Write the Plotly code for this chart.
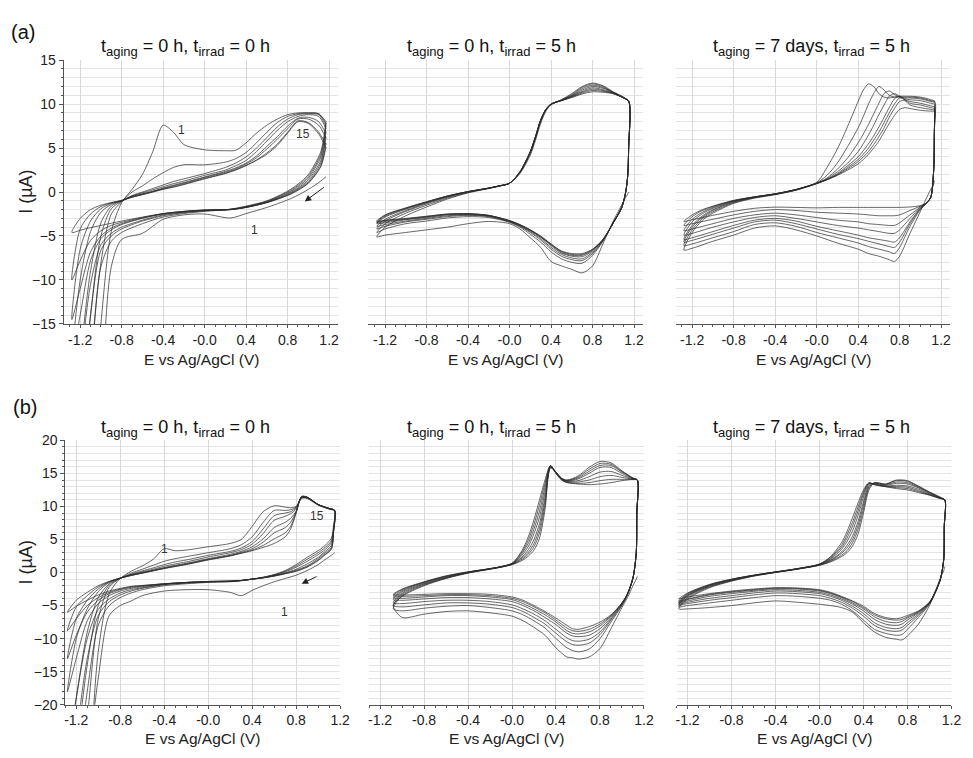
import plotly.graph_objects as go

# Cyclic voltammograms: repeated scans, each scan = cathodic sweep (from the
# positive vertex down) followed by the anodic sweep back up.
CYCLES = [1, 2, 3, 4, 6, 8, 11, 15]

# ---------------- (a) t_aging = 0 h, t_irrad = 0 h ----------------
A1_CATH_E = [1.17, 1.12, 1.0, 0.9, 0.8, 0.6, 0.4, 0.25, 0.0, -0.2, -0.4, -0.6, -0.8, -0.9, -1.0, -1.1, -1.2, -1.28]
A1_CATH_I = [
    [1.75, 1.25, 0.3, -0.35, -0.9, -1.75, -2.45, -2.95, -2.5, -2.6, -3.1, -4.7, -5.4, -8.5, -24, -38, -45, -50],
    [8.0, 4.6, 2.0, 0.9, 0.1, -1.0, -1.6, -1.95, -2.2, -2.45, -2.85, -3.6, -4.6, -5.6, -8.5, -20, -32, -40],
    [7.8, 4.3, 1.8, 0.75, 0.0, -1.05, -1.65, -1.95, -2.15, -2.35, -2.7, -3.3, -4.2, -5.0, -6.6, -14, -26, -34],
    [7.5, 4.0, 1.6, 0.6, -0.1, -1.1, -1.7, -1.97, -2.1, -2.3, -2.6, -3.2, -4.0, -4.7, -6.0, -10.5, -20, -28],
    [6.9, 3.6, 1.4, 0.45, -0.2, -1.15, -1.72, -1.98, -2.08, -2.25, -2.5, -3.0, -3.7, -4.3, -5.3, -7.8, -14, -19],
    [6.3, 3.3, 1.2, 0.35, -0.3, -1.18, -1.74, -2.0, -2.06, -2.22, -2.48, -2.95, -3.6, -4.1, -5.0, -6.8, -11, -14.5],
    [5.6, 3.0, 1.05, 0.25, -0.35, -1.2, -1.75, -2.0, -2.05, -2.2, -2.46, -2.9, -3.45, -3.8, -4.4, -5.5, -7.8, -10],
    [5.1, 2.9, 1.0, 0.2, -0.4, -1.2, -1.75, -2.0, -2.05, -2.2, -2.45, -2.85, -3.3, -3.55, -3.8, -4.05, -4.35, -4.6],
]
A1_ANOD_E = [-1.28, -1.2, -1.1, -1.0, -0.9, -0.8, -0.7, -0.6, -0.5, -0.4, -0.3, -0.2, 0.0, 0.2, 0.3, 0.4, 0.5, 0.6, 0.7, 0.8, 0.9, 1.0, 1.1, 1.17]
A1_ANOD_I = [
    [-50, -42, -30, -15, -4.5, -1.2, 0.3, 2.0, 4.6, 7.6, 6.8, 5.4, 4.8, 4.7, 4.75, 5.6, 6.7, 7.6, 8.3, 8.8, 9.0, 9.0, 8.9, 8.0],
    [-40, -33, -20, -8, -2.5, -1.1, 0.0, 0.7, 1.5, 2.2, 2.8, 3.1, 3.1, 3.4, 3.8, 4.5, 5.6, 6.8, 7.9, 8.6, 8.9, 9.0, 8.9, 7.8],
    [-34, -26, -14, -5, -1.9, -1.05, -0.4, 0.0, 0.4, 0.8, 1.2, 1.5, 2.1, 2.8, 3.3, 4.0, 5.0, 6.2, 7.4, 8.3, 8.8, 8.9, 8.8, 7.5],
    [-28, -19, -9, -3.5, -1.6, -1.0, -0.45, -0.1, 0.25, 0.6, 0.95, 1.25, 1.9, 2.5, 3.0, 3.6, 4.6, 5.8, 7.0, 8.0, 8.6, 8.8, 8.6, 7.2],
    [-19, -10, -4.5, -2.3, -1.4, -1.0, -0.5, -0.2, 0.1, 0.45, 0.78, 1.08, 1.72, 2.35, 2.75, 3.3, 4.1, 5.2, 6.3, 7.5, 8.4, 8.5, 8.0, 6.6],
    [-14.5, -6.5, -3.3, -1.9, -1.3, -0.98, -0.55, -0.25, 0.05, 0.4, 0.7, 1.0, 1.65, 2.25, 2.65, 3.2, 3.9, 4.9, 6.0, 7.2, 8.3, 8.3, 7.6, 6.1],
    [-10, -4.2, -2.5, -1.65, -1.22, -0.96, -0.58, -0.28, 0.02, 0.35, 0.6, 0.9, 1.55, 2.15, 2.55, 3.05, 3.65, 4.45, 5.45, 6.8, 8.1, 7.9, 6.8, 5.4],
    [-4.6, -3.0, -2.0, -1.5, -1.2, -0.95, -0.6, -0.3, 0.0, 0.3, 0.55, 0.85, 1.5, 2.1, 2.5, 3.0, 3.6, 4.3, 5.3, 6.7, 8.0, 7.8, 6.6, 5.0],
]

# ---------------- (a) t_aging = 0 h, t_irrad = 5 h ----------------
A2_CATH_E = [1.15, 1.148, 1.14, 1.12, 1.08, 1.0, 0.9, 0.8, 0.7, 0.6, 0.5, 0.4, 0.3, 0.2, 0.1, 0.0, -0.2, -0.4, -0.6, -0.8, -1.0, -1.2, -1.28]
A2_CATH_I = [
    [0.0, -0.05, -0.2, -0.6, -1.5, -3.3, -5.9, -8.4, -9.2, -8.8, -8.4, -7.9, -6.3, -5.2, -4.2, -3.6, -3.35, -3.6, -4.0, -4.3, -4.6, -4.9, -5.1],
    [10.3, 5.0, 2.0, 0.0, -1.8, -3.5, -5.6, -7.2, -8.1, -8.0, -7.6, -6.8, -5.7, -4.8, -4.0, -3.45, -2.9, -2.8, -2.95, -3.3, -3.6, -4.2, -4.6],
    [10.3, 5.0, 2.0, 0.0, -1.8, -3.5, -5.55, -7.0, -7.8, -7.7, -7.3, -6.5, -5.45, -4.6, -3.9, -3.4, -2.8, -2.65, -2.8, -3.1, -3.4, -3.9, -4.2],
    [10.3, 5.0, 2.0, 0.0, -1.8, -3.5, -5.5, -6.85, -7.6, -7.5, -7.1, -6.3, -5.3, -4.5, -3.85, -3.35, -2.75, -2.6, -2.7, -3.0, -3.3, -3.7, -3.9],
    [10.3, 5.0, 2.0, 0.0, -1.8, -3.5, -5.45, -6.7, -7.35, -7.3, -6.95, -6.1, -5.15, -4.4, -3.8, -3.3, -2.7, -2.55, -2.6, -2.9, -3.15, -3.5, -3.6],
    [10.3, 5.0, 2.0, 0.0, -1.8, -3.5, -5.42, -6.6, -7.2, -7.2, -6.85, -6.0, -5.1, -4.35, -3.75, -3.28, -2.68, -2.5, -2.55, -2.83, -3.1, -3.35, -3.5],
    [10.3, 5.0, 2.0, 0.0, -1.8, -3.5, -5.4, -6.55, -7.1, -7.1, -6.75, -5.95, -5.05, -4.32, -3.72, -3.26, -2.66, -2.47, -2.52, -2.78, -3.05, -3.25, -3.4],
    [10.3, 5.0, 2.0, 0.0, -1.8, -3.5, -5.4, -6.5, -7.0, -7.0, -6.7, -5.9, -5.0, -4.3, -3.7, -3.25, -2.65, -2.45, -2.5, -2.75, -3.0, -3.2, -3.3],
]
A2_ANOD_E = [-1.28, -1.2, -1.0, -0.8, -0.6, -0.4, -0.2, -0.1, 0.0, 0.1, 0.2, 0.25, 0.3, 0.35, 0.4, 0.5, 0.6, 0.7, 0.8, 0.9, 1.0, 1.1, 1.15]
A2_ANOD_I = [
    [-5.1, -4.0, -2.7, -1.7, -0.8, -0.1, 0.4, 0.65, 1.0, 2.1, 4.2, 5.9, 7.8, 9.2, 9.9, 10.5, 11.2, 12.0, 12.4, 12.1, 11.4, 10.8, 10.3],
    [-4.6, -3.6, -2.4, -1.5, -0.7, -0.05, 0.42, 0.68, 1.0, 2.2, 4.4, 6.1, 8.0, 9.3, 10.0, 10.5, 11.1, 11.9, 12.3, 12.0, 11.35, 10.75, 10.3],
    [-4.2, -3.3, -2.2, -1.35, -0.6, 0.0, 0.43, 0.69, 1.0, 2.25, 4.5, 6.2, 8.1, 9.35, 10.0, 10.45, 11.0, 11.75, 12.15, 11.9, 11.3, 10.75, 10.3],
    [-3.9, -3.1, -2.1, -1.25, -0.55, 0.02, 0.44, 0.7, 1.0, 2.25, 4.55, 6.25, 8.15, 9.4, 10.0, 10.45, 10.95, 11.6, 12.0, 11.8, 11.3, 10.7, 10.3],
    [-3.6, -2.85, -1.95, -1.2, -0.5, 0.04, 0.45, 0.7, 1.0, 2.3, 4.6, 6.3, 8.2, 9.4, 10.0, 10.4, 10.9, 11.45, 11.85, 11.65, 11.25, 10.7, 10.3],
    [-3.5, -2.75, -1.88, -1.15, -0.47, 0.05, 0.45, 0.7, 1.0, 2.3, 4.6, 6.3, 8.2, 9.4, 10.0, 10.4, 10.85, 11.35, 11.7, 11.55, 11.2, 10.7, 10.3],
    [-3.4, -2.65, -1.83, -1.12, -0.46, 0.05, 0.45, 0.7, 1.0, 2.3, 4.6, 6.3, 8.2, 9.4, 10.0, 10.4, 10.8, 11.25, 11.55, 11.45, 11.2, 10.7, 10.3],
    [-3.3, -2.6, -1.8, -1.1, -0.45, 0.05, 0.45, 0.7, 1.0, 2.3, 4.6, 6.3, 8.2, 9.4, 10.0, 10.4, 10.75, 11.15, 11.4, 11.35, 11.2, 10.7, 10.3],
]

# ---------------- (a) t_aging = 7 days, t_irrad = 5 h ----------------
A3_CATH_E = [1.14, 1.135, 1.13, 1.1, 1.05, 1.0, 0.9, 0.8, 0.75, 0.7, 0.6, 0.5, 0.4, 0.2, 0.0, -0.2, -0.4, -0.6, -0.8, -1.0, -1.2, -1.28]
A3_CATH_I = [
    [1.3, 1.2, 1.0, 0.3, -0.9, -2.2, -4.7, -7.3, -7.9, -7.7, -7.3, -7.0, -6.5, -5.8, -5.0, -4.3, -3.85, -4.1, -4.9, -5.6, -6.4, -6.6],
    [9.2, 6.5, 2.8, -0.6, -1.4, -2.0, -3.9, -6.3, -7.0, -6.8, -6.5, -6.2, -5.8, -5.2, -4.6, -3.9, -3.5, -3.7, -4.5, -5.2, -5.9, -6.1],
    [9.4, 6.5, 2.8, -0.6, -1.4, -1.9, -3.6, -5.7, -6.3, -6.2, -5.9, -5.6, -5.3, -4.8, -4.2, -3.6, -3.2, -3.4, -4.1, -4.8, -5.5, -5.7],
    [9.5, 6.6, 2.8, -0.6, -1.4, -1.85, -3.4, -5.2, -5.7, -5.6, -5.4, -5.2, -4.9, -4.4, -3.9, -3.3, -3.0, -3.2, -3.8, -4.5, -5.2, -5.4],
    [9.7, 6.7, 2.9, -0.6, -1.35, -1.75, -3.0, -4.3, -4.7, -4.7, -4.5, -4.3, -4.1, -3.8, -3.4, -3.0, -2.7, -2.9, -3.4, -4.0, -4.7, -4.9],
    [9.9, 6.8, 2.9, -0.6, -1.3, -1.7, -2.6, -3.5, -3.8, -3.8, -3.7, -3.6, -3.4, -3.2, -2.9, -2.6, -2.4, -2.6, -3.0, -3.6, -4.2, -4.4],
    [10.1, 6.9, 3.0, -0.6, -1.3, -1.6, -2.1, -2.6, -2.7, -2.7, -2.7, -2.6, -2.5, -2.4, -2.3, -2.1, -2.0, -2.2, -2.6, -3.1, -3.6, -3.8],
    [10.3, 7.0, 3.0, -0.6, -1.3, -1.55, -1.7, -1.75, -1.75, -1.75, -1.75, -1.75, -1.75, -1.75, -1.8, -1.75, -1.72, -1.85, -2.2, -2.65, -3.15, -3.35],
]
A3_ANOD_E = [-1.28, -1.2, -1.1, -1.0, -0.8, -0.6, -0.4, -0.2, 0.0, 0.1, 0.2, 0.3, 0.4, 0.45, 0.5, 0.55, 0.6, 0.65, 0.7, 0.75, 0.8, 0.85, 0.9, 1.0, 1.1, 1.14]
A3_ANOD_I = [
    [-6.6, -4.6, -3.2, -2.4, -1.3, -0.7, -0.3, 0.2, 0.95, 1.4, 1.9, 2.5, 3.2, 3.7, 4.3, 5.0, 5.8, 6.8, 7.8, 8.7, 9.4, 9.6, 9.5, 9.3, 9.2, 9.2],
    [-6.1, -4.3, -3.0, -2.25, -1.22, -0.65, -0.27, 0.22, 0.96, 1.4, 1.95, 2.65, 3.45, 4.0, 4.6, 5.4, 6.3, 7.3, 8.5, 9.5, 10.3, 10.4, 9.9, 9.6, 9.4, 9.3],
    [-5.7, -4.0, -2.85, -2.1, -1.15, -0.62, -0.25, 0.24, 0.98, 1.42, 2.0, 2.8, 3.7, 4.3, 5.0, 5.9, 6.8, 7.9, 9.0, 10.0, 10.7, 10.5, 10.1, 9.9, 9.6, 9.5],
    [-5.4, -3.8, -2.7, -2.0, -1.1, -0.6, -0.23, 0.25, 1.0, 1.45, 2.1, 3.0, 4.0, 4.7, 5.5, 6.4, 7.4, 8.5, 9.6, 10.6, 10.9, 10.5, 10.3, 10.1, 9.8, 9.7],
    [-4.9, -3.4, -2.45, -1.85, -1.05, -0.58, -0.22, 0.27, 1.0, 1.5, 2.3, 3.3, 4.6, 5.5, 6.5, 7.6, 8.8, 9.9, 10.9, 11.2, 10.9, 10.6, 10.5, 10.4, 10.1, 10.0],
    [-4.4, -3.1, -2.3, -1.75, -1.0, -0.56, -0.21, 0.28, 1.0, 1.6, 2.6, 3.9, 5.6, 6.6, 7.7, 8.9, 10.1, 11.2, 11.5, 11.1, 10.8, 10.7, 10.7, 10.6, 10.3, 10.2],
    [-3.8, -2.8, -2.1, -1.65, -0.97, -0.55, -0.2, 0.29, 1.05, 1.9, 3.3, 5.2, 7.3, 8.6, 10.0, 11.2, 12.0, 11.6, 11.0, 10.8, 10.8, 10.8, 10.8, 10.7, 10.4, 10.3],
    [-3.35, -2.6, -2.0, -1.6, -0.95, -0.55, -0.2, 0.3, 1.1, 2.8, 4.9, 7.5, 10.3, 11.6, 12.3, 12.0, 11.2, 10.8, 10.7, 10.8, 10.9, 10.9, 10.9, 10.8, 10.5, 10.3],
]

# ---------------- (b) t_aging = 0 h, t_irrad = 0 h ----------------
B1_CATH_E = [1.15, 1.14, 1.12, 1.05, 1.0, 0.9, 0.8, 0.7, 0.6, 0.5, 0.4, 0.3, 0.2, 0.0, -0.2, -0.4, -0.6, -0.7, -0.8, -0.9, -1.0, -1.1, -1.2, -1.28]
B1_CATH_I = [
    [3.0, 2.85, 2.6, 1.8, 1.2, 0.3, -0.4, -0.9, -1.4, -2.0, -2.7, -3.5, -3.0, -2.6, -2.6, -2.8, -3.5, -4.3, -5.0, -6.5, -16, -30, -45, -60],
    [9.4, 7.0, 5.2, 3.9, 3.3, 2.3, 1.2, 0.3, -0.3, -0.7, -1.0, -1.25, -1.4, -1.5, -1.7, -2.0, -2.6, -3.1, -3.8, -5.0, -8.0, -18, -32, -45],
    [9.4, 6.8, 4.8, 3.6, 3.0, 2.0, 1.0, 0.2, -0.35, -0.72, -1.0, -1.22, -1.35, -1.45, -1.6, -1.85, -2.4, -2.8, -3.4, -4.4, -6.5, -13, -25, -36],
    [9.4, 6.6, 4.5, 3.3, 2.7, 1.7, 0.8, 0.1, -0.4, -0.75, -1.0, -1.2, -1.32, -1.4, -1.55, -1.8, -2.3, -2.6, -3.1, -4.0, -5.6, -10, -19, -28],
    [9.4, 6.4, 4.1, 3.0, 2.3, 1.3, 0.5, -0.05, -0.45, -0.78, -1.0, -1.2, -1.3, -1.38, -1.52, -1.75, -2.15, -2.4, -2.8, -3.5, -4.7, -7.3, -13, -18],
    [9.4, 6.2, 3.8, 2.8, 2.1, 1.0, 0.35, -0.1, -0.5, -0.8, -1.0, -1.2, -1.3, -1.36, -1.5, -1.72, -2.05, -2.25, -2.6, -3.2, -4.2, -6.0, -9.5, -13],
    [9.4, 6.1, 3.6, 2.6, 1.9, 0.9, 0.25, -0.15, -0.52, -0.8, -1.0, -1.2, -1.3, -1.35, -1.5, -1.7, -2.0, -2.15, -2.5, -3.0, -3.8, -5.0, -7.0, -8.8],
    [9.4, 6.0, 3.5, 2.5, 1.8, 0.8, 0.2, -0.2, -0.55, -0.8, -1.0, -1.2, -1.3, -1.35, -1.5, -1.7, -1.95, -2.1, -2.4, -2.8, -3.4, -4.2, -5.1, -6.0],
]
B1_ANOD_E = [-1.28, -1.2, -1.1, -1.0, -0.9, -0.8, -0.7, -0.6, -0.5, -0.4, -0.3, -0.2, 0.0, 0.2, 0.3, 0.4, 0.5, 0.6, 0.7, 0.75, 0.8, 0.85, 0.9, 1.0, 1.1, 1.15]
B1_ANOD_I = [
    [-60, -50, -35, -12, -3.2, -0.9, 0.2, 1.0, 2.0, 3.6, 3.3, 3.4, 3.9, 4.4, 5.0, 7.0, 9.2, 10.1, 9.9, 9.8, 10.0, 11.2, 11.2, 10.2, 9.6, 9.4],
    [-45, -36, -22, -7, -2.2, -0.88, -0.1, 0.5, 1.1, 1.7, 2.1, 2.4, 3.0, 3.6, 4.2, 5.4, 7.6, 9.4, 9.4, 9.5, 9.9, 11.3, 11.3, 10.25, 9.65, 9.4],
    [-36, -27, -14, -5, -1.9, -0.87, -0.25, 0.25, 0.7, 1.2, 1.6, 1.9, 2.6, 3.2, 3.7, 4.7, 6.6, 8.6, 9.0, 9.2, 9.8, 11.35, 11.3, 10.25, 9.65, 9.4],
    [-28, -19, -9, -3.8, -1.7, -0.86, -0.32, 0.1, 0.5, 0.95, 1.3, 1.6, 2.35, 3.0, 3.45, 4.3, 5.9, 7.9, 8.5, 8.9, 9.6, 11.4, 11.35, 10.3, 9.65, 9.4],
    [-18, -10, -5.5, -2.9, -1.5, -0.85, -0.38, 0.0, 0.38, 0.75, 1.1, 1.4, 2.1, 2.75, 3.2, 3.9, 5.1, 6.8, 7.6, 8.2, 9.3, 11.45, 11.4, 10.3, 9.7, 9.4],
    [-13, -7, -4.2, -2.5, -1.42, -0.85, -0.42, -0.05, 0.3, 0.68, 1.0, 1.3, 2.0, 2.6, 3.05, 3.6, 4.6, 6.0, 6.8, 7.6, 9.2, 11.5, 11.4, 10.3, 9.7, 9.4],
    [-8.8, -5.2, -3.5, -2.2, -1.38, -0.85, -0.44, -0.08, 0.27, 0.63, 0.95, 1.25, 1.95, 2.55, 2.95, 3.4, 4.1, 5.1, 6.0, 7.0, 9.1, 11.5, 11.4, 10.3, 9.7, 9.4],
    [-6.0, -4.2, -3.0, -2.0, -1.35, -0.85, -0.45, -0.1, 0.25, 0.6, 0.9, 1.2, 1.9, 2.5, 2.9, 3.3, 3.8, 4.4, 5.4, 6.6, 9.0, 11.5, 11.4, 10.3, 9.7, 9.4],
]

# ---------------- (b) t_aging = 0 h, t_irrad = 5 h ----------------
B2_CATH_E = [1.14, 1.135, 1.13, 1.1, 1.05, 1.0, 0.9, 0.8, 0.7, 0.6, 0.55, 0.5, 0.4, 0.3, 0.2, 0.1, 0.0, -0.2, -0.4, -0.6, -0.8, -1.0, -1.08]
B2_CATH_I = [
    [-0.6, -0.8, -1.0, -2.0, -3.8, -5.3, -8.5, -11.5, -12.8, -13.1, -12.9, -12.8, -11.4, -9.5, -8.3, -7.3, -6.6, -6.1, -5.8, -5.9, -6.3, -6.8, -5.0],
    [14.0, 9.0, 3.0, -0.9, -3.4, -5.0, -7.5, -10.0, -11.6, -12.0, -11.8, -11.4, -10.0, -8.4, -7.3, -6.4, -5.8, -5.3, -5.0, -5.1, -5.4, -5.8, -5.5],
    [14.0, 9.0, 3.0, -0.9, -3.35, -4.9, -7.2, -9.4, -10.7, -11.0, -10.9, -10.5, -9.2, -7.8, -6.8, -5.9, -5.3, -4.8, -4.6, -4.6, -4.9, -5.2, -5.0],
    [14.0, 9.0, 3.0, -0.85, -3.3, -4.8, -7.0, -9.0, -10.1, -10.4, -10.3, -9.9, -8.6, -7.3, -6.3, -5.5, -4.9, -4.4, -4.2, -4.2, -4.4, -4.7, -4.6],
    [14.0, 9.0, 3.0, -0.85, -3.25, -4.7, -6.8, -8.5, -9.5, -9.7, -9.6, -9.2, -7.9, -6.8, -5.8, -5.0, -4.4, -4.0, -3.8, -3.8, -4.0, -4.2, -4.1],
    [14.0, 9.0, 3.0, -0.8, -3.2, -4.65, -6.6, -8.1, -9.0, -9.3, -9.2, -8.8, -7.5, -6.4, -5.5, -4.7, -4.1, -3.7, -3.5, -3.5, -3.7, -3.9, -3.8],
    [14.0, 9.0, 3.0, -0.8, -3.2, -4.6, -6.5, -7.8, -8.6, -8.9, -8.8, -8.4, -7.2, -6.1, -5.2, -4.4, -3.9, -3.5, -3.35, -3.35, -3.5, -3.6, -3.5],
    [14.0, 9.0, 3.0, -0.8, -3.2, -4.6, -6.4, -7.5, -8.2, -8.6, -8.5, -8.0, -6.9, -5.9, -5.0, -4.2, -3.7, -3.3, -3.2, -3.2, -3.3, -3.4, -3.3],
]
B2_ANOD_E = [-1.08, -1.0, -0.8, -0.6, -0.4, -0.2, -0.1, 0.0, 0.05, 0.1, 0.15, 0.2, 0.25, 0.3, 0.35, 0.4, 0.45, 0.5, 0.6, 0.7, 0.8, 0.9, 1.0, 1.1, 1.14]
B2_ANOD_I = [
    [-5.0, -3.6, -2.0, -0.9, -0.1, 0.5, 0.8, 1.2, 1.5, 1.9, 2.5, 3.4, 5.2, 9.5, 15.8, 15.2, 14.3, 14.0, 14.6, 15.9, 16.8, 16.6, 15.4, 14.3, 14.0],
    [-5.5, -3.5, -1.9, -0.85, -0.05, 0.52, 0.82, 1.22, 1.6, 2.1, 2.8, 3.9, 6.0, 10.2, 15.9, 15.2, 14.25, 13.95, 14.45, 15.6, 16.5, 16.4, 15.3, 14.3, 14.0],
    [-5.0, -3.3, -1.8, -0.8, -0.02, 0.54, 0.84, 1.25, 1.7, 2.3, 3.1, 4.4, 6.7, 10.8, 16.0, 15.2, 14.2, 13.9, 14.3, 15.3, 16.2, 16.2, 15.2, 14.25, 14.0],
    [-4.6, -3.1, -1.7, -0.75, 0.0, 0.55, 0.85, 1.28, 1.8, 2.5, 3.5, 5.0, 7.4, 11.4, 16.0, 15.1, 14.2, 13.85, 14.15, 15.0, 15.9, 15.9, 15.0, 14.2, 14.0],
    [-4.1, -2.9, -1.6, -0.65, 0.04, 0.57, 0.87, 1.32, 1.95, 2.8, 4.0, 5.9, 8.4, 12.2, 16.1, 15.1, 14.15, 13.8, 13.9, 14.5, 15.2, 15.3, 14.7, 14.15, 14.0],
    [-3.8, -2.75, -1.5, -0.6, 0.06, 0.58, 0.88, 1.35, 2.05, 3.1, 4.5, 6.6, 9.3, 12.9, 16.1, 15.05, 14.1, 13.7, 13.7, 14.0, 14.5, 14.7, 14.4, 14.1, 14.0],
    [-3.5, -2.6, -1.45, -0.55, 0.08, 0.59, 0.89, 1.38, 2.2, 3.35, 5.0, 7.3, 10.2, 13.5, 16.2, 15.0, 14.05, 13.65, 13.5, 13.6, 13.9, 14.1, 14.1, 14.1, 14.0],
    [-3.3, -2.5, -1.4, -0.5, 0.1, 0.6, 0.9, 1.4, 2.3, 3.6, 5.5, 8.0, 11.0, 14.0, 16.2, 15.0, 14.0, 13.6, 13.4, 13.3, 13.4, 13.6, 13.9, 14.1, 14.0],
]

# ---------------- (b) t_aging = 7 days, t_irrad = 5 h ----------------
B3_CATH_E = [1.14, 1.135, 1.13, 1.1, 1.05, 1.0, 0.9, 0.8, 0.75, 0.7, 0.6, 0.5, 0.4, 0.3, 0.2, 0.1, 0.0, -0.2, -0.4, -0.6, -0.8, -1.0, -1.2, -1.28]
B3_CATH_I = [
    [0.9, 0.6, 0.3, -0.8, -3.0, -5.0, -7.8, -9.6, -10.2, -10.1, -9.8, -9.0, -7.6, -6.0, -5.3, -5.0, -4.8, -4.5, -4.3, -4.6, -5.0, -5.3, -5.5, -5.5],
    [11.0, 7.0, 2.0, -1.0, -3.2, -4.8, -6.8, -8.6, -9.4, -9.5, -9.2, -8.6, -7.2, -5.8, -4.8, -4.2, -3.9, -3.6, -3.5, -3.8, -4.2, -4.6, -5.0, -5.2],
    [11.0, 7.0, 2.0, -1.0, -3.15, -4.7, -6.5, -8.0, -8.7, -8.9, -8.7, -8.0, -6.6, -5.4, -4.5, -3.9, -3.5, -3.2, -3.1, -3.4, -3.8, -4.2, -4.7, -4.9],
    [11.0, 7.0, 2.0, -1.0, -3.1, -4.65, -6.3, -7.6, -8.3, -8.5, -8.3, -7.6, -6.2, -5.1, -4.2, -3.6, -3.2, -2.9, -2.8, -3.1, -3.5, -3.9, -4.5, -4.8],
    [11.0, 7.0, 2.0, -1.0, -3.05, -4.6, -6.1, -7.2, -7.8, -8.0, -7.8, -7.1, -5.8, -4.8, -4.0, -3.4, -3.0, -2.7, -2.6, -2.85, -3.2, -3.6, -4.3, -4.6],
    [11.0, 7.0, 2.0, -1.0, -3.0, -4.55, -6.0, -6.9, -7.4, -7.6, -7.4, -6.7, -5.5, -4.6, -3.8, -3.2, -2.8, -2.5, -2.45, -2.7, -3.0, -3.4, -4.1, -4.5],
    [11.0, 7.0, 2.0, -1.0, -3.0, -4.5, -5.9, -6.7, -7.1, -7.2, -7.0, -6.4, -5.3, -4.4, -3.7, -3.1, -2.7, -2.4, -2.35, -2.6, -2.9, -3.3, -4.0, -4.3],
    [11.0, 7.0, 2.0, -1.0, -3.0, -4.5, -5.8, -6.5, -6.8, -7.0, -6.8, -6.2, -5.1, -4.3, -3.6, -3.0, -2.6, -2.35, -2.3, -2.5, -2.8, -3.2, -3.7, -4.0],
]
B3_ANOD_E = [-1.28, -1.2, -1.0, -0.8, -0.6, -0.4, -0.2, 0.0, 0.1, 0.2, 0.25, 0.3, 0.35, 0.4, 0.45, 0.5, 0.6, 0.7, 0.8, 0.9, 1.0, 1.1, 1.14]
B3_ANOD_I = [
    [-5.5, -4.0, -2.3, -1.3, -0.55, 0.0, 0.5, 1.1, 1.6, 2.4, 3.0, 4.0, 5.8, 9.0, 12.5, 13.6, 13.4, 14.0, 13.9, 13.1, 12.2, 11.4, 11.0],
    [-5.2, -3.8, -2.2, -1.25, -0.52, 0.02, 0.52, 1.12, 1.7, 2.6, 3.3, 4.5, 6.5, 9.6, 12.8, 13.6, 13.35, 13.9, 13.8, 13.0, 12.15, 11.35, 11.0],
    [-4.9, -3.6, -2.1, -1.2, -0.5, 0.04, 0.54, 1.15, 1.8, 2.9, 3.7, 5.0, 7.1, 10.2, 13.0, 13.5, 13.3, 13.7, 13.6, 12.9, 12.1, 11.3, 11.0],
    [-4.8, -3.5, -2.05, -1.15, -0.48, 0.05, 0.55, 1.18, 1.9, 3.1, 4.1, 5.5, 7.7, 10.7, 13.2, 13.5, 13.2, 13.5, 13.4, 12.8, 12.0, 11.3, 11.0],
    [-4.6, -3.4, -1.95, -1.1, -0.45, 0.07, 0.57, 1.22, 2.05, 3.5, 4.7, 6.3, 8.6, 11.4, 13.4, 13.4, 13.1, 13.2, 13.1, 12.6, 11.9, 11.25, 11.0],
    [-4.5, -3.3, -1.9, -1.05, -0.43, 0.08, 0.58, 1.25, 2.15, 3.8, 5.2, 7.0, 9.3, 11.9, 13.5, 13.35, 13.05, 13.0, 12.9, 12.4, 11.8, 11.2, 11.0],
    [-4.3, -3.2, -1.85, -1.02, -0.41, 0.09, 0.59, 1.28, 2.3, 4.1, 5.7, 7.6, 9.9, 12.2, 13.55, 13.3, 13.0, 12.85, 12.7, 12.25, 11.75, 11.2, 11.0],
    [-4.0, -3.1, -1.8, -1.0, -0.4, 0.1, 0.6, 1.3, 2.4, 4.5, 6.2, 8.3, 10.5, 12.5, 13.6, 13.3, 13.0, 12.7, 12.5, 12.1, 11.7, 11.2, 11.0],
]

SUB = "<sub><span style='font-size:13px'>{}</span></sub>"
TITLES = [
    "t" + SUB.format("aging") + " = 0 h, t" + SUB.format("irrad") + " = 0 h",
    "t" + SUB.format("aging") + " = 0 h, t" + SUB.format("irrad") + " = 5 h",
    "t" + SUB.format("aging") + " = 7 days, t" + SUB.format("irrad") + " = 5 h",
]
X_TICKS = [-1.2, -0.8, -0.4, 0.0, 0.4, 0.8, 1.2]
X_TICK_TEXT = ["-1.2", "-0.8", "-0.4", "-0.0", "0.4", "0.8", "1.2"]
Y_TICKS_A = [-15, -10, -5, 0, 5, 10, 15]
Y_TICKS_B = [-20, -15, -10, -5, 0, 5, 10, 15, 20]

# ---------------------------------------------------------------------
W, H = 973, 758
FONT = "Liberation Sans, Arial, Helvetica, sans-serif"
LINE = "rgba(45,45,45,0.72)"
AXIS = "#555555"
GRID_V = "#d9d9d9"
GRID_H = "#e4e4e4"


def fx(px):
    return px / W


def fy(py):
    return 1 - py / H


# subplot frames in page pixels: (left, right, top, bottom)
FRAMES = [
    (63.3, 341.3, 53.3, 322.7), (371.7, 649.7, 53.3, 322.7), (682.3, 960.3, 53.3, 322.7),
    (65.0, 343.0, 441.7, 711.7), (372.3, 650.3, 441.7, 711.7), (683.3, 961.3, 441.7, 711.7),
]

PANELS = [
    (A1_CATH_E, A1_CATH_I, A1_ANOD_E, A1_ANOD_I),
    (A2_CATH_E, A2_CATH_I, A2_ANOD_E, A2_ANOD_I),
    (A3_CATH_E, A3_CATH_I, A3_ANOD_E, A3_ANOD_I),
    (B1_CATH_E, B1_CATH_I, B1_ANOD_E, B1_ANOD_I),
    (B2_CATH_E, B2_CATH_I, B2_ANOD_E, B2_ANOD_I),
    (B3_CATH_E, B3_CATH_I, B3_ANOD_E, B3_ANOD_I),
]

fig = go.Figure()

for p, (ce, ci, ae, ai) in enumerate(PANELS):
    sfx = "" if p == 0 else str(p + 1)
    for k, cyc in enumerate(CYCLES):
        if len(ci[k]) != len(ce) or len(ai[k]) != len(ae):
            raise ValueError(f"panel {p + 1}, cycle {cyc}: {len(ci[k])}/{len(ce)} {len(ai[k])}/{len(ae)}")
        xs = ce + ae[1:]
        ys = ci[k] + ai[k][1:]
        fig.add_trace(go.Scatter(
            x=xs, y=ys, mode="lines", name=f"cycle {cyc}",
            line=dict(color=LINE, width=1, shape="spline", smoothing=0.8),
            xaxis="x" + sfx, yaxis="y" + sfx, showlegend=False, hoverinfo="skip",
        ))

tick_font = dict(family=FONT, size=14, color="#222")
layout = dict(
    width=W, height=H, margin=dict(l=0, r=0, t=0, b=0),
    paper_bgcolor="white", plot_bgcolor="white", showlegend=False,
)

for p, (l, r, t, b) in enumerate(FRAMES):
    sfx = "" if p == 0 else str(p + 1)
    top_row = p < 3
    left = p % 3 == 0
    xr = [-1.36, 1.29] if top_row else [-1.3, 1.2]
    yr = [-15, 15] if top_row else [-20, 20]
    layout["xaxis" + sfx] = dict(
        domain=[fx(l), fx(r)], anchor="y" + sfx, range=xr,
        tickmode="array", tickvals=X_TICKS, ticktext=X_TICK_TEXT,
        showgrid=True, gridcolor=GRID_V, gridwidth=1, zeroline=False,
        showline=True, linecolor=AXIS, linewidth=1,
        ticks="outside", ticklen=3, tickwidth=1, tickcolor=AXIS, tickfont=tick_font,
        minor=dict(tickmode="linear", tick0=0, dtick=0.1, ticks="outside", ticklen=2,
                   tickwidth=1, tickcolor=AXIS, showgrid=False),
        fixedrange=True,
    )
    ya = dict(
        domain=[fy(b), fy(t)], anchor="x" + sfx, range=yr,
        tickmode="array", tickvals=Y_TICKS_A if top_row else Y_TICKS_B,
        showgrid=True, gridcolor=GRID_H, gridwidth=1, zeroline=False, fixedrange=True,
        minor=dict(tickmode="linear", tick0=0, dtick=1, showgrid=True, gridcolor=GRID_H,
                   gridwidth=1, ticks="outside" if left else "", ticklen=2, tickwidth=1,
                   tickcolor=AXIS),
    )
    if left:
        ya.update(showline=True, linecolor=AXIS, linewidth=1, ticks="outside", ticklen=4,
                  tickwidth=1, tickcolor=AXIS, tickfont=tick_font, showticklabels=True)
    else:
        ya.update(showline=False, ticks="", showticklabels=False)
    layout["yaxis" + sfx] = ya

fig.update_layout(**layout)

ann = []
title_font = dict(family=FONT, size=18, color="#111")
title_x = [187, 496, 819.5]
for row, ty in enumerate([40.0, 430.0]):
    for c in range(3):
        ann.append(dict(text=TITLES[c], x=fx(title_x[c]), y=fy(ty), xref="paper", yref="paper",
                        xanchor="center", yanchor="middle", showarrow=False, font=title_font))
    for c in range(3):
        l, r, t, b = FRAMES[row * 3 + c]
        ann.append(dict(text="E vs Ag/AgCl (V)", x=fx((l + r) / 2),
                        y=fy(359.0 if row == 0 else 746.5), xref="paper", yref="paper",
                        xanchor="center", yanchor="middle", showarrow=False,
                        font=dict(family=FONT, size=15.5, color="#222")))
    ann.append(dict(text="I (µA)", x=fx(25), y=fy(188 if row == 0 else 566.7), xref="paper",
                    yref="paper", xanchor="center", yanchor="middle", textangle=-90,
                    showarrow=False, font=dict(family=FONT, size=18, color="#222")))

ann.append(dict(text="(a)", x=fx(22), y=fy(25), xref="paper", yref="paper", xanchor="center",
                yanchor="middle", showarrow=False, font=dict(family=FONT, size=20, color="#111")))
ann.append(dict(text="(b)", x=fx(24), y=fy(408), xref="paper", yref="paper", xanchor="center",
                yanchor="middle", showarrow=False, font=dict(family=FONT, size=20, color="#111")))

# cycle labels and scan direction arrows
lab_font = dict(family=FONT, size=12, color="#333")
for xr_, yr_, txt, xv, yv in [
    ("x", "y", "1", -0.22, 7.0), ("x", "y", "15", 0.945, 6.6), ("x", "y", "1", 0.484, -4.34),
    ("x4", "y4", "1", -0.40, 3.5), ("x4", "y4", "15", 0.99, 8.5), ("x4", "y4", "1", 0.69, -5.9),
]:
    ann.append(dict(text=txt, x=xv, y=yv, xref=xr_, yref=yr_, showarrow=False, font=lab_font))

for xr_, yr_, hx, hy, tx, ty in [("x", "y", 0.965, -1.07, 1.165, 0.67),
                                 ("x4", "y4", 0.85, -1.7, 1.0, -0.5)]:
    ann.append(dict(text="", x=hx, y=hy, ax=tx, ay=ty, xref=xr_, yref=yr_, axref=xr_, ayref=yr_,
                    showarrow=True, arrowhead=2, arrowsize=1.3, arrowwidth=1, arrowcolor="#222"))

fig.update_layout(annotations=ann)
fig.write_html("out.html")
